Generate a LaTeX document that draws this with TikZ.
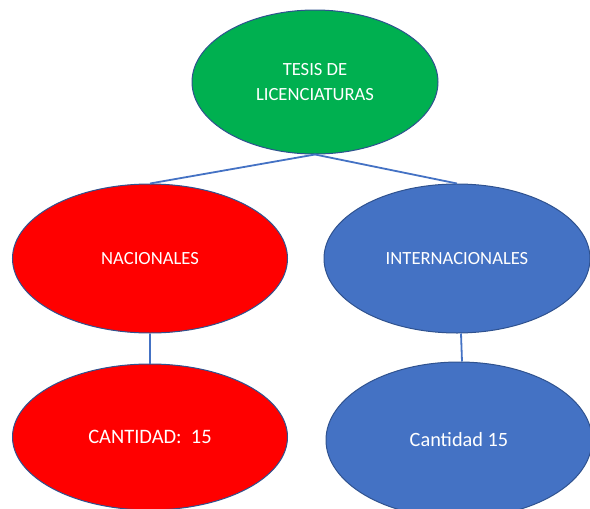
\documentclass[tikz,border=0pt]{standalone}
\usepackage{fontspec}
\setmainfont{Carlito}
\usetikzlibrary{shapes.geometric}
\definecolor{offgreen}{HTML}{00B050}
\definecolor{offred}{HTML}{FF0000}
\definecolor{offblue}{HTML}{4472C4}
\definecolor{edgeblue}{HTML}{2F528F}
\tikzset{
  bubble/.style={ellipse, draw=edgeblue, line width=1pt, inner sep=0pt,
    text=white, align=center, font=\fontsize{18.6}{25}\selectfont},
  link/.style={draw=offblue, line width=1.8pt}
}
\begin{document}
\begin{tikzpicture}[x=1pt,y=-1pt]
\useasboundingbox (0,0) rectangle (590,509);
\node[bubble, fill=offgreen, minimum width=246pt, minimum height=144pt] (top) at (315,82) {TESIS DE\\LICENCIATURAS};
\node[bubble, fill=offred, minimum width=275pt, minimum height=149pt] (nac) at (150,258.5) {NACIONALES};
\node[bubble, fill=offblue, minimum width=266pt, minimum height=149pt] (int) at (457,258.5) {INTERNACIONALES};
\node[bubble, fill=offred, minimum width=275pt, minimum height=146pt, font=\fontsize{20.5}{25}\selectfont] (cn) at (150,437) {CANTIDAD:\ \ 15};
\node[bubble, fill=offblue, minimum width=266pt, minimum height=156pt, font=\fontsize{20.3}{25}\selectfont] (ci) at (459,440) {Cantidad 15};
\draw[link] (top.south) -- (nac.north);
\draw[link] (top.south) -- (int.north);
\draw[link] (nac.south) -- (cn.north);
\draw[link] ([xshift=4pt]int.south) -- ([xshift=3pt]ci.north);
\end{tikzpicture}
\end{document}
